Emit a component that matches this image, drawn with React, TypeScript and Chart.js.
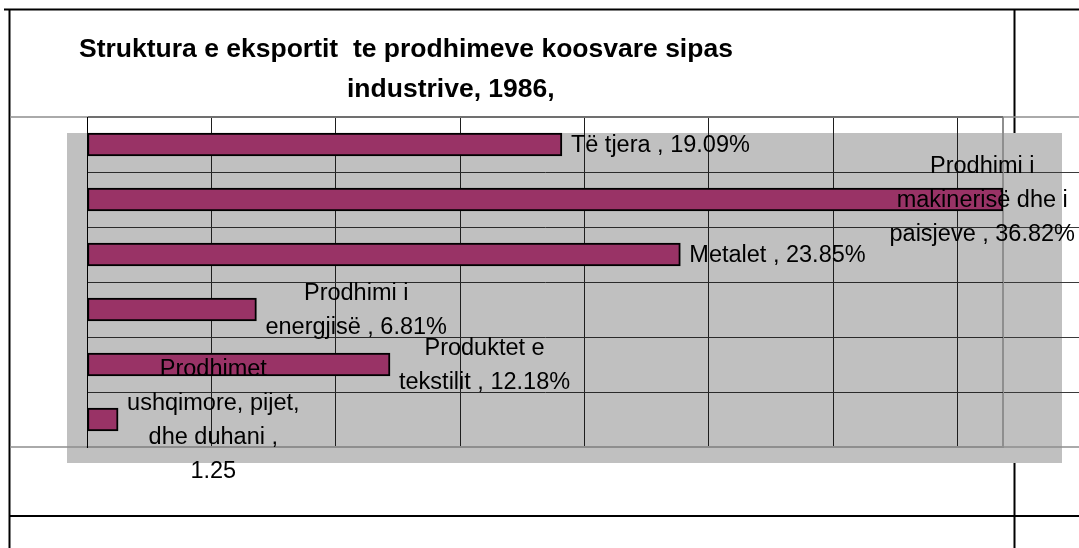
import React, { useEffect, useRef } from "react";
import { Chart, registerables } from "chart.js";

Chart.register(...registerables);

const categories = [
  "Të tjera",
  "Prodhimi i makinerisë dhe i paisjeve",
  "Metalet",
  "Prodhimi i energjisë",
  "Produktet e tekstilit",
  "Prodhimet ushqimore, pijet, dhe duhani",
];
const shares = [19.09, 36.82, 23.85, 6.81, 12.18, 1.25];
const labelLines = [
  ["Të tjera , 19.09%"],
  ["Prodhimi i", "makinerisë dhe i", "paisjeve , 36.82%"],
  ["Metalet , 23.85%"],
  ["Prodhimi i", "energjisë , 6.81%"],
  ["Produktet e", "tekstilit , 12.18%"],
  ["Prodhimet", "ushqimore, pijet,", "dhe duhani ,", "1.25"],
];
const titleLines = [
  "Struktura e eksportit  te prodhimeve koosvare sipas",
  "industrive, 1986,",
];
const axisMin = 0;
const axisMax = 36.82;
const gridValues = [0, 5, 10, 15, 20, 25, 30, 35, 36.82];

const FONT = '"Liberation Sans", Arial, sans-serif';

const decorPlugin = {
  id: "decor",
  beforeDraw(chart: any) {
    const ctx = chart.ctx as CanvasRenderingContext2D;
    const W = chart.width;
    const H = chart.height;
    const area = chart.chartArea;
    const line = (x1: number, y1: number, x2: number, y2: number) => {
      ctx.beginPath();
      ctx.moveTo(x1, y1);
      ctx.lineTo(x2, y2);
      ctx.stroke();
    };
    ctx.save();
    ctx.fillStyle = "#ffffff";
    ctx.fillRect(0, 0, W, H);
    // table frame
    ctx.strokeStyle = "#000000";
    ctx.lineWidth = 2;
    line(4, 9.5, W, 9.5);
    line(9.5, 9, 9.5, H);
    line(1014.5, 9, 1014.5, H);
    line(9, 516, W, 516);
    // grey block behind plot
    ctx.fillStyle = "#c0c0c0";
    ctx.fillRect(67, 133, 995, 330);
    // full-width rules
    ctx.strokeStyle = "#8e8e8e";
    ctx.lineWidth = 1.5;
    line(10, area.top, W, area.top);
    line(10, area.bottom, W, area.bottom);
    // category boundary rules extending to the right
    const ys = chart.scales.y;
    ctx.strokeStyle = "#3a3a3a";
    ctx.lineWidth = 1;
    for (let i = 1; i < categories.length; i++) {
      const y = Math.round((ys.getPixelForValue(i - 1) + ys.getPixelForValue(i)) / 2) + 0.5;
      line(area.right, y, W, y);
    }
    ctx.restore();
  },
  afterDatasetsDraw(chart: any) {
    const ctx = chart.ctx as CanvasRenderingContext2D;
    const W = chart.width;
    const meta = chart.getDatasetMeta(0);
    const lh = 34;
    ctx.save();
    ctx.font = `23.5px ${FONT}`;
    ctx.fillStyle = "#000000";
    ctx.textAlign = "center";
    ctx.textBaseline = "middle";
    meta.data.forEach((bar: any, i: number) => {
      const lines = labelLines[i];
      const w = Math.max(...lines.map((l) => ctx.measureText(l).width));
      let left = bar.x + 9;
      if (left + w > W - 4) left = W - 4 - w;
      const cx = left + w / 2;
      lines.forEach((l, j) => {
        ctx.fillText(l, cx, bar.y + (j - (lines.length - 1) / 2) * lh + 1);
      });
    });
    ctx.restore();
  },
  afterDraw(chart: any) {
    const ctx = chart.ctx as CanvasRenderingContext2D;
    ctx.save();
    ctx.font = `bold 26.5px ${FONT}`;
    ctx.fillStyle = "#000000";
    ctx.textAlign = "left";
    ctx.textBaseline = "alphabetic";
    ctx.fillText(titleLines[0], 79, 57);
    ctx.fillText(titleLines[1], 347, 97);
    ctx.restore();
  },
};

export default function App() {
  const canvasRef = useRef<HTMLCanvasElement | null>(null);

  useEffect(() => {
    if (!canvasRef.current) return;
    const chart = new Chart(canvasRef.current, {
      type: "bar",
      data: {
        labels: categories,
        datasets: [
          {
            data: shares,
            backgroundColor: "#993366",
            borderColor: "#000000",
            borderWidth: 2,
            borderSkipped: false,
            barThickness: 23,
          },
        ],
      },
      options: {
        indexAxis: "y",
        responsive: false,
        animation: false,
        devicePixelRatio: 1,
        layout: { padding: { left: 87, top: 117, right: 76, bottom: 101 } },
        plugins: {
          legend: { display: false },
          tooltip: { enabled: false },
          title: { display: false },
        },
        scales: {
          x: {
            type: "linear",
            min: axisMin,
            max: axisMax,
            afterBuildTicks: (axis: any) => {
              axis.ticks = gridValues.map((v) => ({ value: v }));
            },
            ticks: { display: false },
            grid: {
              drawTicks: false,
              color: (c: any) => (c.tick && c.tick.value >= axisMax ? "#8e8e8e" : "#1e1e1e"),
              lineWidth: (c: any) => (c.tick && c.tick.value >= axisMax ? 2 : 1),
            },
            border: { display: true, color: "#8e8e8e", width: 2 },
          },
          y: {
            type: "category",
            ticks: { display: false },
            grid: {
              offset: true,
              drawTicks: false,
              color: (c: any) => (c.index === 0 ? "#707070" : "#2a2a2a"),
              lineWidth: (c: any) => (c.index === 0 ? 2 : 1),
            },
            border: { display: true, color: "#000000", width: 1 },
          },
        },
      },
      plugins: [decorPlugin],
    });
    return () => chart.destroy();
  }, []);

  return (
    <div style={{ position: "fixed", left: 0, top: 0, width: 1079, height: 548, background: "#fff" }}>
      <canvas ref={canvasRef} width={1079} height={548} style={{ display: "block" }} />
    </div>
  );
}
